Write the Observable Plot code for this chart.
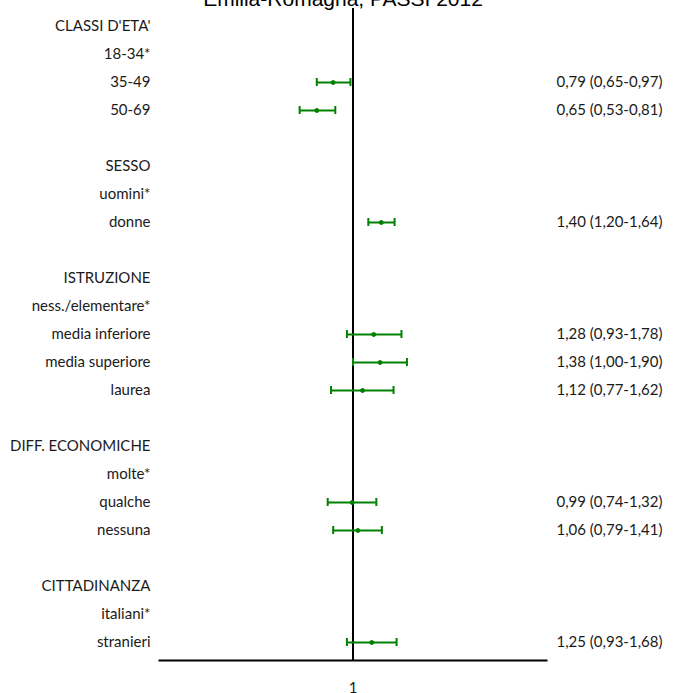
<!DOCTYPE html>
<html><head><meta charset="utf-8">
<script src="https://cdn.jsdelivr.net/npm/d3@7"></script>
<script src="https://cdn.jsdelivr.net/npm/@observablehq/plot@0.6"></script>
<style>body{margin:0;background:#fff}</style>
</head><body><div id="chart"></div>
<script>
const title = "Emilia-Romagna, PASSI 2012";
const rowLabels = ["CLASSI D'ETA'","18-34*","35-49","50-69","","SESSO","uomini*","donne","","ISTRUZIONE","ness./elementare*","media inferiore","media superiore","laurea","","DIFF. ECONOMICHE","molte*","qualche","nessuna","","CITTADINANZA","italiani*","stranieri"];
const estLabels = ["35-49","50-69","donne","media inferiore","media superiore","laurea","qualche","nessuna","stranieri"];
const orValues = [0.79,0.65,1.40,1.28,1.38,1.12,0.99,1.06,1.25];
const ciLow    = [0.65,0.53,1.20,0.93,1.00,0.77,0.74,0.79,0.93];
const ciHigh   = [0.97,0.81,1.64,1.78,1.90,1.62,1.32,1.41,1.68];
const xTicks = [1];

const green = "#008000";
const fmt = v => v.toFixed(2).replace(".", ",");
const rows = rowLabels.map((label, i) => ({key: i, label}));
const est = estLabels.map((l, j) => ({key: rowLabels.indexOf(l), or: orValues[j], lo: ciLow[j], hi: ciHigh[j]}));

const chart = Plot.plot({
  width: 674, height: 693,
  marginTop: 8, marginBottom: 33, marginLeft: 159, marginRight: 128,
  style: {fontFamily: "Lato", fontSize: "15px", color: "#1a1a1a", background: "#fff"},
  x: {type: "log", domain: [0.1, 10]},
  y: {type: "band", domain: d3.range(rowLabels.length), padding: 0, axis: null},
  marks: [
    Plot.ruleX(xTicks, {stroke: "#000", strokeWidth: 2}),
    Plot.frame({anchor: "bottom", stroke: "#000", strokeWidth: 2}),
    Plot.axisX({ticks: xTicks, tickSize: 0, tickPadding: 22, label: null, tickFormat: d => String(d), fontSize: 15, fill: "#1a1a1a"}),
    Plot.ruleY(est, {y: "key", x1: "lo", x2: "hi", stroke: green, strokeWidth: 2}),
    Plot.tickX(est, {x: "lo", y: "key", stroke: green, strokeWidth: 2, insetTop: 10, insetBottom: 10}),
    Plot.tickX(est, {x: "hi", y: "key", stroke: green, strokeWidth: 2, insetTop: 10, insetBottom: 10}),
    Plot.dot(est, {x: "or", y: "key", r: 2, fill: green, stroke: green, strokeWidth: 1}),
    Plot.text(rows, {y: "key", text: "label", frameAnchor: "left", dx: -9, textAnchor: "end", fill: "#1a1a1a", fontSize: 15}),
    Plot.text(est, {y: "key", text: d => `${fmt(d.or)} (${fmt(d.lo)}-${fmt(d.hi)})`, frameAnchor: "right", dx: 10, textAnchor: "start", fill: "#1a1a1a", fontSize: 15}),
    Plot.text([title], {frameAnchor: "top", lineAnchor: "bottom", dy: -2.5, dx: -10, fontFamily: "Liberation Sans, Arial, sans-serif", fontSize: 21, fill: "#000"})
  ]
});
document.getElementById("chart").appendChild(chart);
</script>
</body></html>
